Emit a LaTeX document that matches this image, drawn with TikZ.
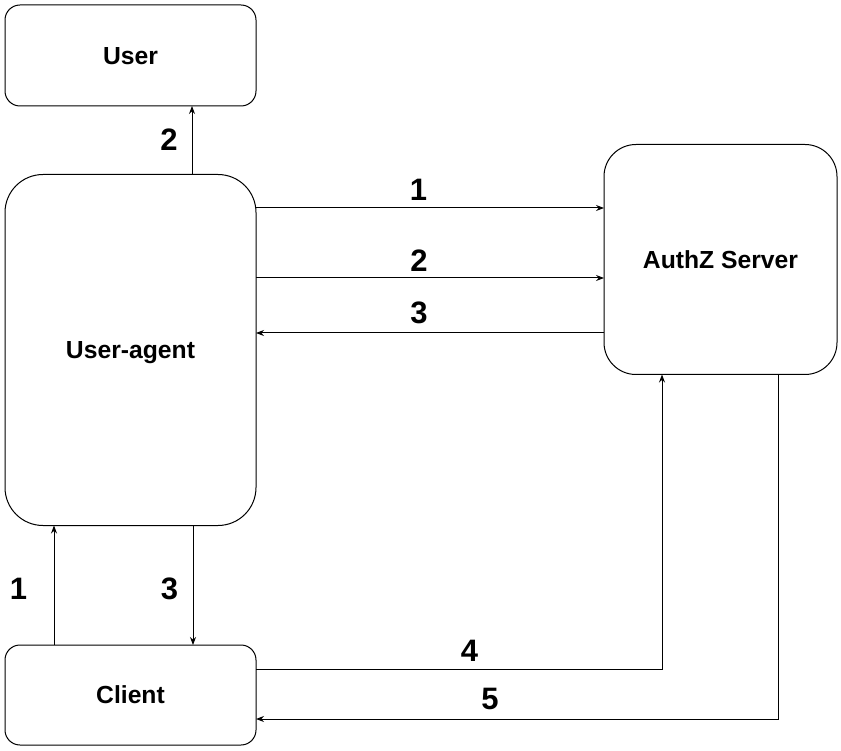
\documentclass[tikz,border=0pt]{standalone}
\usepackage{fontspec}
\setmainfont{Liberation Sans}
\usetikzlibrary{arrows.meta, calc}

\begin{document}
\begin{tikzpicture}[x=1pt, y=-1pt, line width=1pt, >={Stealth[length=8pt, width=6pt]},
        box/.style={draw, inner sep=0pt, outer sep=0pt, text height=17.7pt, text depth=0pt, font=\fontsize{24.7}{29}\selectfont\bfseries},
        num/.style={inner sep=0pt, font=\fontsize{31}{36}\selectfont\bfseries}]
            \useasboundingbox (0,0) rectangle (841,751);
            
            \node[box, rounded corners=15pt, minimum width=251pt, minimum height=101pt] (user) at (130.5,55.5) {User};
            \node[box, rounded corners=38pt, minimum width=251pt, minimum height=351pt] (ua) at (130.5,350) {User-agent};
            \node[box, rounded corners=32pt, minimum width=233pt, minimum height=230pt] (az) at (720.5,259.5) {AuthZ Server};
            \node[box, rounded corners=15pt, minimum width=251pt, minimum height=100pt] (client) at (130.5,695) {Client};
            
            \draw[->] (ua.north -| 192,0) -- (user.south -| 192,0);
            \draw[->] (ua.east |- 0,208) -- (az.west |- 0,208);
            \draw[->] (ua.east |- 0,278) -- (az.west |- 0,278);
            \draw[->] (az.west |- 0,333) -- (ua.east |- 0,333);
            \draw[->] (client.north -| 54,0) -- (ua.south -| 54,0);
            \draw[->] (ua.south -| 193,0) -- (client.north -| 193,0);
            \draw[->] (client.east |- 0,669) -| (az.south -| 662,0);
            \draw[->] (az.south -| 778,0) |- (client.east |- 0,719);
            
            %\draw[dashed] (0,0) grid (841,751);
            
            \foreach \x/\y/\n [count=\i] in {169/140/2, 418.5/189.5/1, 419/260.5/2, 419/312.5/3, 18.5/589/1, 169.5/589/3, 469.5/651/4, 490/698.5/5} {
                \node[num] (lbl\i) at (\x,\y) {\n};
            }
            
        \end{tikzpicture}
\end{document}
